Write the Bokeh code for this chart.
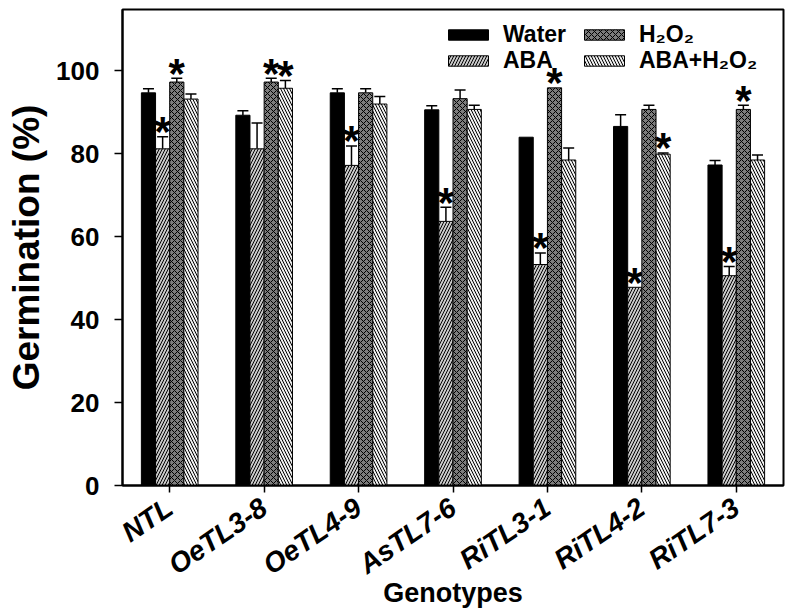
import math
from bokeh.plotting import figure
from bokeh.models import (ColumnDataSource, FactorRange, Whisker, TeeHead, Legend,
                          LegendItem, FixedTicker, Range1d)
from bokeh.transform import dodge
from bokeh.core.properties import value
from bokeh.embed import file_html
from bokeh.resources import INLINE

genotypes = ["NTL", "OeTL3-8", "OeTL4-9", "AsTL7-6", "RiTL3-1", "RiTL4-2", "RiTL7-3"]

water = [94.7, 89.3, 94.7, 90.6, 84.0, 86.6, 77.3]
water_err = [1.0, 1.1, 1.0, 1.0, 0.0, 2.8, 1.1]
water_star = [False, False, False, False, False, False, False]

aba = [81.2, 81.2, 77.2, 63.7, 53.3, 47.8, 50.6]
aba_err = [2.9, 6.2, 4.7, 3.4, 2.8, 0.0, 2.2]
aba_star = [True, False, True, True, True, True, True]

h2o2 = [97.3, 97.3, 94.7, 93.3, 95.9, 90.7, 90.7]
h2o2_err = [0.9, 0.9, 1.0, 2.1, 0.0, 1.0, 1.0]
h2o2_star = [True, True, False, False, True, False, True]

aba_h2o2 = [93.2, 95.8, 92.0, 90.7, 78.5, 79.9, 78.5]
aba_h2o2_err = [1.2, 1.9, 1.8, 1.0, 2.9, 0.3, 1.2]
aba_h2o2_star = [False, True, False, False, False, True, False]

y_ticks = [0, 20, 40, 60, 80, 100]

FONT = "Liberation Sans"

p = figure(x_range=FactorRange(*genotypes, range_padding=0, factor_padding=0),
           y_range=Range1d(0, 114.8),
           frame_width=661, frame_height=476, output_backend="svg", toolbar_location=None,
           min_border_left=122, min_border_right=2, min_border_top=9, min_border_bottom=10)
p.x_range.range_padding = 0
p.grid.visible = False
p.outline_line_color = "black"
p.outline_line_width = 2
p.background_fill_color = "white"
p.border_fill_color = "white"

series = [
    ("Water", water, water_err, water_star, dict(fill_color="black", hatch_pattern=None)),
    ("ABA", aba, aba_err, aba_star, dict(fill_color="#c9c9c9", hatch_pattern="/",
                                         hatch_color="black", hatch_scale=6, hatch_weight=1)),
    ("H\u2082O\u2082", h2o2, h2o2_err, h2o2_star, dict(fill_color="#7d7d7d", hatch_pattern="x",
                                                        hatch_color="black", hatch_scale=6, hatch_weight=1)),
    ("ABA+H\u2082O\u2082", aba_h2o2, aba_h2o2_err, aba_h2o2_star,
     dict(fill_color="#efefef", hatch_pattern="\\", hatch_color="black", hatch_scale=6, hatch_weight=1)),
]
offsets = [-0.225, -0.075, 0.075, 0.225]
bw = 0.15

renderers = []
for (name, vals, errs, stars, style), off in zip(series, offsets):
    hi = [v + e for v, e in zip(vals, errs)]
    src = ColumnDataSource(dict(g=genotypes, v=vals, hi=hi))
    r = p.vbar(x=dodge("g", off, range=p.x_range), top="v", bottom=0, width=bw, source=src,
               line_color="black", line_width=1, **style)
    renderers.append(r)
    esrc = ColumnDataSource(dict(g=[g for g, e in zip(genotypes, errs) if e > 0],
                                 v=[v for v, e in zip(vals, errs) if e > 0],
                                 hi=[h for h, e in zip(hi, errs) if e > 0]))
    w = Whisker(base=dodge("g", off, range=p.x_range), lower="v", upper="hi", source=esrc,
                dimension="height", line_color="black", line_width=1.5,
                upper_head=TeeHead(size=11, line_color="black", line_width=1.5),
                lower_head=None)
    p.add_layout(w)
    ssrc = ColumnDataSource(dict(g=[g for g, s in zip(genotypes, stars) if s],
                                 hi=[h for h, s in zip(hi, stars) if s]))
    p.text(x=dodge("g", off, range=p.x_range), y="hi", text=value("*"), source=ssrc,
           text_font=value(FONT), text_font_style="bold", text_font_size="42px",
           text_align="center", text_baseline="alphabetic", y_offset=-5, text_color="black")

# axes
p.yaxis.ticker = FixedTicker(ticks=y_ticks)
p.yaxis.minor_tick_line_color = None
p.yaxis.major_tick_out = 8
p.yaxis.major_tick_in = 0
p.yaxis.major_tick_line_width = 1.5
p.yaxis.axis_line_width = 2
p.yaxis.major_label_text_font = FONT
p.yaxis.major_label_text_font_style = "bold"
p.yaxis.major_label_text_font_size = "26px"
p.yaxis.major_label_text_color = "black"
p.yaxis.major_label_standoff = 15
p.yaxis.axis_label = "Germination (%)"
p.yaxis.axis_label_text_font = FONT
p.yaxis.axis_label_text_font_style = "bold"
p.yaxis.axis_label_text_font_size = "37px"
p.yaxis.axis_label_text_color = "black"
p.yaxis.axis_label_standoff = 6

p.xaxis.major_tick_out = 7
p.xaxis.major_tick_in = 0
p.xaxis.major_tick_line_width = 1.5
p.xaxis.axis_line_width = 2
p.xaxis.major_label_orientation = 0.6
p.xaxis.major_label_text_font = FONT
p.xaxis.major_label_text_font_style = "bold italic"
p.xaxis.major_label_text_font_size = "28px"
p.xaxis.major_label_text_color = "black"
p.xaxis.major_label_standoff = 12
p.xaxis.axis_label = "Genotypes"
p.xaxis.axis_label_text_font = FONT
p.xaxis.axis_label_text_font_style = "bold"
p.xaxis.axis_label_text_font_size = "27px"
p.xaxis.axis_label_text_color = "black"
p.xaxis.axis_label_standoff = -18

# legend: one small legend per entry, arranged in two columns and two rows
def make_legend(item, loc):
    return Legend(items=[item], location=loc, orientation="vertical",
                  glyph_width=50, glyph_height=13, label_height=22, spacing=0,
                  label_standoff=10, padding=0, margin=0,
                  label_text_font=FONT, label_text_font_style="bold",
                  label_text_font_size="23px", label_text_color="black",
                  border_line_color=None, background_fill_alpha=0)

locs = [(321, 437), (321, 411), (457, 437), (457, 411)]
for (name, *_), r, loc in zip(series, renderers, locs):
    p.add_layout(make_legend(LegendItem(label=name, renderers=[r]), loc))

open("out.html", "w").write(file_html(p, INLINE))
